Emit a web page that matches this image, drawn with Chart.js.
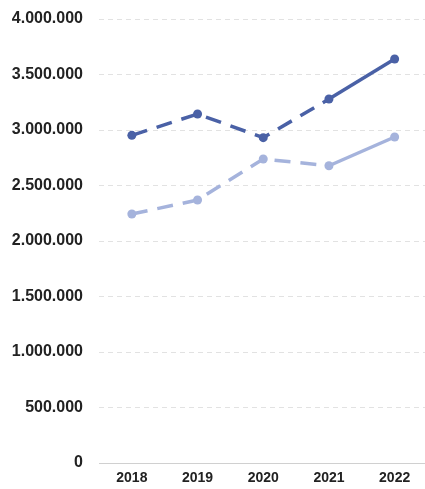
<!DOCTYPE html>
<html>
<head>
<meta charset="utf-8">
<script src="https://cdn.jsdelivr.net/npm/chart.js@4"></script>
<style>
  html, body { margin: 0; padding: 0; background: #fff; overflow: hidden; }
  #wrap { position: relative; width: 432px; height: 489px; }
</style>
</head>
<body>
<div id="wrap"><canvas id="chart"></canvas></div>
<script>
// chart data
const years = ['2018', '2019', '2020', '2021', '2022'];
const darkSeries = [2952000, 3144000, 2931000, 3279000, 3640000];
const lightSeries = [2243000, 2369000, 2739000, 2678000, 2937000];
const yTicks = [0, 500000, 1000000, 1500000, 2000000, 2500000, 3000000, 3500000, 4000000];

// segments before these indexes are drawn dashed
const darkSolidFrom = 3;
const lightSolidFrom = 3;

const fmt = v => v.toString().replace(/\B(?=(\d{3})+(?!\d))/g, '.');

const dashUntil = idx => ({
  borderDash: ctx => ctx.p0DataIndex < idx ? [16, 10] : undefined
});

new Chart(document.getElementById('chart'), {
  type: 'line',
  data: {
    labels: years,
    datasets: [
      {
        data: darkSeries,
        borderColor: '#4a61a6',
        backgroundColor: '#4a61a6',
        borderWidth: 3.5,
        pointRadius: 4.5,
        pointBorderWidth: 0,
        pointHoverRadius: 4.5,
        segment: dashUntil(darkSolidFrom),
      },
      {
        data: lightSeries,
        borderColor: '#a5b3dc',
        backgroundColor: '#a5b3dc',
        borderWidth: 3.5,
        pointRadius: 4.5,
        pointBorderWidth: 0,
        pointHoverRadius: 4.5,
        segment: dashUntil(lightSolidFrom),
      },
    ],
  },
  options: {
    responsive: true,
    maintainAspectRatio: false,
    animation: false,
    layout: { padding: { top: 19, left: 0, right: 3, bottom: 0 } },
    plugins: {
      legend: { display: false },
      tooltip: { enabled: false },
    },
    scales: {
      x: {
        offset: true,
        grid: { display: false, drawTicks: false },
        border: { display: false },
        afterFit: s => { s.height = 26; s.paddingLeft = 0; s.paddingRight = 0; },
        ticks: {
          color: '#222',
          font: { family: 'Liberation Sans, Arial', size: 14, weight: 'bold' },
          padding: 7,
        },
      },
      y: {
        min: 0,
        max: 4000000,
        afterBuildTicks: axis => { axis.ticks = yTicks.map(v => ({ value: v })); },
        afterFit: s => { s.width = 99; s.paddingTop = 0; s.paddingBottom = 0; },
        grid: {
          color: ctx => ctx.tick && ctx.tick.value === 0 ? '#d0d0d0' : '#e2e2e2',
          drawTicks: false,
        },
        border: { display: false, dash: ctx => ctx.tick && ctx.tick.value === 0 ? [] : [5, 4] },
        ticks: {
          color: '#222',
          font: { family: 'Liberation Sans, Arial', size: 16, weight: 'bold' },
          padding: 16,
          callback: v => fmt(v),
        },
      },
    },
  },
});
</script>
</body>
</html>
